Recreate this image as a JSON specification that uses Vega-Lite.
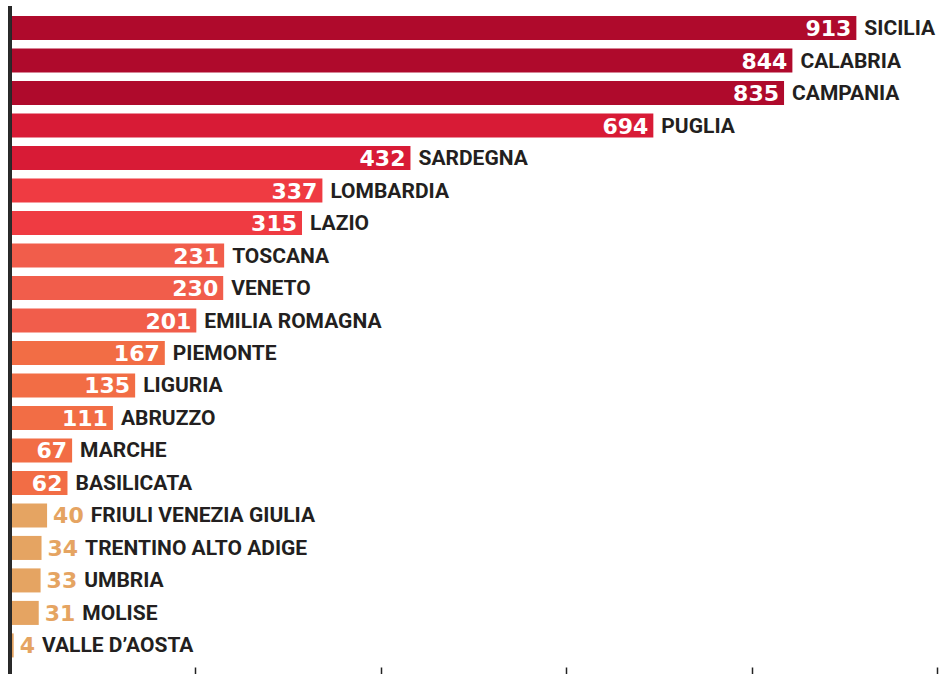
{
  "$schema": "https://vega.github.io/schema/vega-lite/v6.json",
  "width": 927,
  "height": 668,
  "autosize": "none",
  "padding": {"left": 10, "top": 6, "right": 4, "bottom": 0},
  "background": "white",
  "config": {"view": {"stroke": null}},
  "data": {
    "values": [
      {"regione": "SICILIA", "value": 913},
      {"regione": "CALABRIA", "value": 844},
      {"regione": "CAMPANIA", "value": 835},
      {"regione": "PUGLIA", "value": 694},
      {"regione": "SARDEGNA", "value": 432},
      {"regione": "LOMBARDIA", "value": 337},
      {"regione": "LAZIO", "value": 315},
      {"regione": "TOSCANA", "value": 231},
      {"regione": "VENETO", "value": 230},
      {"regione": "EMILIA ROMAGNA", "value": 201},
      {"regione": "PIEMONTE", "value": 167},
      {"regione": "LIGURIA", "value": 135},
      {"regione": "ABRUZZO", "value": 111},
      {"regione": "MARCHE", "value": 67},
      {"regione": "BASILICATA", "value": 62},
      {"regione": "FRIULI VENEZIA GIULIA", "value": 40},
      {"regione": "TRENTINO ALTO ADIGE", "value": 34},
      {"regione": "UMBRIA", "value": 33},
      {"regione": "MOLISE", "value": 31},
      {"regione": "VALLE D’AOSTA", "value": 4}
    ]
  },
  "encoding": {
    "y": {
      "field": "regione",
      "type": "nominal",
      "sort": {"field": "value", "order": "descending"},
      "scale": {"range": [0, 661.5], "paddingInner": 0.26, "paddingOuter": 0.31},
      "axis": null
    },
    "x": {
      "field": "value",
      "type": "quantitative",
      "scale": {"domain": [0, 1000], "nice": false},
      "axis": {
        "values": [200, 400, 600, 800, 1000],
        "domain": false,
        "grid": false,
        "labels": false,
        "title": null,
        "ticks": true,
        "tickSize": 7,
        "tickWidth": 1.5,
        "tickColor": "#222222",
        "offset": -7
      }
    }
  },
  "layer": [
    {
      "mark": {"type": "bar"},
      "encoding": {
        "color": {
          "field": "value",
          "type": "quantitative",
          "scale": {
            "type": "threshold",
            "domain": [50, 200, 300, 400, 800],
            "range": ["#E5A462", "#F26D45", "#F15D4B", "#EF3B42", "#D81B36", "#AF0A2C"]
          },
          "legend": null
        }
      }
    },
    {
      "mark": {"type": "rule", "color": "#2b2b2b", "strokeWidth": 2.5},
      "encoding": {"x": {"datum": 0}, "y": null}
    },
    {
      "transform": [{"filter": "datum.value >= 50"}],
      "mark": {
        "type": "text",
        "align": "right",
        "baseline": "middle",
        "dx": -5,
        "dy": 1,
        "font": "DejaVu Sans",
        "fontWeight": "bold",
        "fontSize": 22,
        "color": "white"
      },
      "encoding": {"text": {"field": "value", "type": "quantitative"}}
    },
    {
      "transform": [{"filter": "datum.value < 50"}],
      "mark": {
        "type": "text",
        "align": "left",
        "baseline": "middle",
        "dx": 6,
        "dy": 1,
        "font": "DejaVu Sans",
        "fontWeight": "bold",
        "fontSize": 22,
        "color": "#E5A462"
      },
      "encoding": {"text": {"field": "value", "type": "quantitative"}}
    },
    {
      "mark": {
        "type": "text",
        "align": "left",
        "baseline": "middle",
        "dx": {"expr": "datum.value < 50 ? 13 + length(toString(datum.value)) * 15.3 : 8"},
        "dy": 1,
        "font": "Roboto",
        "fontWeight": "bold",
        "fontSize": 21,
        "color": "#231F20"
      },
      "encoding": {"text": {"field": "regione", "type": "nominal"}}
    }
  ]
}
